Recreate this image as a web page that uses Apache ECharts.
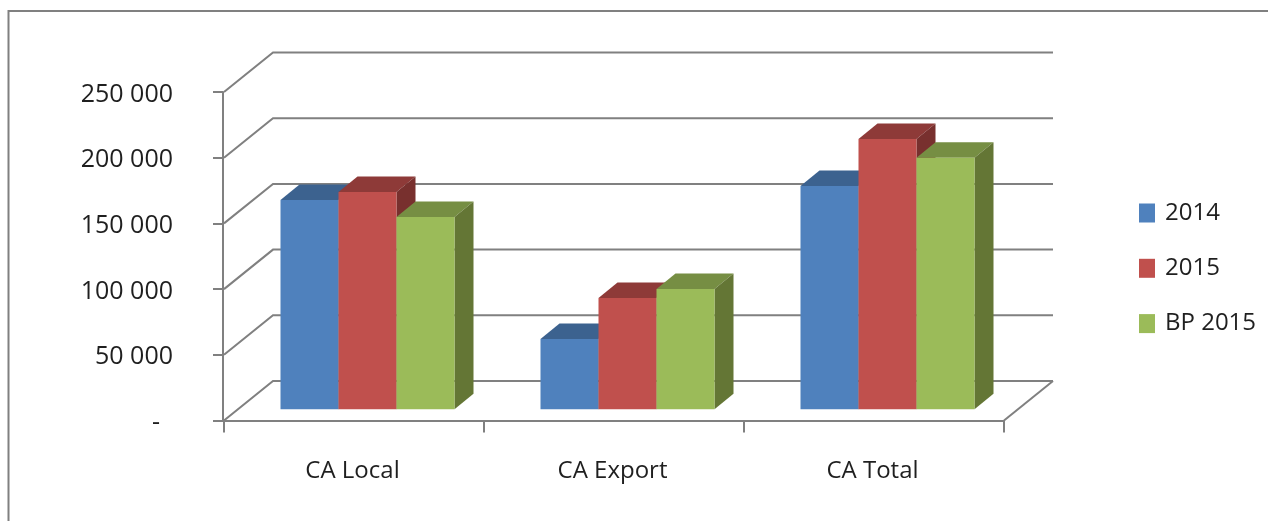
<!DOCTYPE html>
<html>
<head>
<meta charset="utf-8">
<style>
html,body{margin:0;padding:0;background:#fff}
#c{width:1268px;height:521px;filter:blur(0.6px)}
</style>
<script src="https://cdn.jsdelivr.net/npm/echarts@6/dist/echarts.min.js"></script>
</head>
<body>
<div id="c"></div>
<script>
const categories = ['CA Local', 'CA Export', 'CA Total'];
const seriesNames = ['2014', '2015', 'BP 2015'];
const values2014 = [159300, 53500, 170000];
const values2015 = [165300, 84700, 205700];
const valuesBP2015 = [146300, 91500, 191500];
const yTicks = [0, 50000, 100000, 150000, 200000, 250000];
const yTickLabels = ['-', '50 000', '100 000', '150 000', '200 000', '250 000'];

const seriesValues = [values2014, values2015, valuesBP2015];
const frontColors = ['#4F81BD', '#C0504D', '#9BBB59'];
const topColors = ['#3C628F', '#8E3A38', '#768E43'];
const sideColors = ['#335479', '#78302E', '#647635'];
const FONT = '"Open Sans"';
const wallDX = 49, wallDY = 39.5;
const barDX = 19, barDY = 15.5;
const baseDX = 13.5, baseDY = 11.2;
const lineColor = '#808080';
const LW = 2;

function renderWall(params, api) {
  const v = api.value(1);
  const p = api.coord([0, v]);
  const rect = params.coordSys;
  const x0 = rect.x, x1 = rect.x + rect.width, y = p[1];
  const children = [{
    type: 'polyline',
    shape: {points: [[x0, y], [x0 + wallDX, y - wallDY], [x1 + wallDX, y - wallDY]]},
    style: {stroke: lineColor, lineWidth: LW, fill: null}
  }];
  if (v === 0) {
    children.push({
      type: 'line',
      shape: {x1: x1, y1: y, x2: x1 + wallDX, y2: y - wallDY},
      style: {stroke: lineColor, lineWidth: LW}
    });
  }
  return {type: 'group', children: children};
}

function makeRenderBar(idx) {
  return function (params, api) {
    const cat = api.value(0), val = api.value(1);
    const catW = api.size([1, 0])[0];
    const bw = catW * 58 / 260;
    const centre = api.coord([cat, 0]);
    const top = api.coord([cat, val]);
    const xl = centre[0] + baseDX + (idx - 1.5) * bw;
    const xr = xl + bw;
    const yb = centre[1] - baseDY;
    const yt = top[1] - baseDY;
    return {
      type: 'group',
      children: [
        {type: 'polygon', shape: {points: [[xl, yt], [xl + barDX, yt - barDY], [xr + barDX, yt - barDY], [xr, yt]]}, style: {fill: topColors[idx]}},
        {type: 'polygon', shape: {points: [[xr, yt], [xr + barDX, yt - barDY], [xr + barDX, yb - barDY], [xr, yb]]}, style: {fill: sideColors[idx]}},
        {type: 'rect', shape: {x: xl, y: yt, width: bw, height: yb - yt}, style: {fill: frontColors[idx]}}
      ]
    };
  };
}

const chart = echarts.init(document.getElementById('c'), null, {renderer: 'canvas'});
chart.setOption({
  animation: false,
  backgroundColor: '#fff',
  graphic: [{
    type: 'rect', silent: true, z: 0,
    shape: {x: 8.5, y: 11, width: 1400, height: 700},
    style: {fill: null, stroke: lineColor, lineWidth: LW}
  }],
  grid: {left: 224, top: 92, width: 780, height: 328.5},
  legend: {
    orient: 'vertical', left: 1139, top: 201, padding: 0,
    itemWidth: 16, itemHeight: 19, itemGap: 31.3,
    icon: 'rect',
    data: seriesNames,
    textStyle: {fontFamily: FONT, fontSize: 24, color: '#1f1f1f', padding: [0, 0, 0, 5]}
  },
  xAxis: {
    type: 'category', data: categories,
    axisLine: {lineStyle: {color: lineColor, width: LW}},
    axisTick: {show: true, alignWithLabel: false, length: 12, lineStyle: {color: lineColor, width: LW}},
    axisLabel: {margin: 39, fontFamily: FONT, fontSize: 24, color: '#1f1f1f', padding: [0, 3, 0, 0]}
  },
  yAxis: {
    type: 'value', min: 0, max: 250000, interval: 50000, offset: 1,
    axisLine: {show: true, lineStyle: {color: lineColor, width: LW}},
    axisTick: {show: true, length: 10, lineStyle: {color: lineColor, width: LW}},
    splitLine: {show: false},
    axisLabel: {
      margin: 50, fontFamily: FONT, fontSize: 25, color: '#1f1f1f', padding: [5, 0, 0, 0],
      formatter: function (v) {
        const i = yTicks.indexOf(v);
        return i === 0 ? '{d|' + yTickLabels[0] + '}' : yTickLabels[i];
      },
      rich: {d: {padding: [0, 13, 0, 0], fontFamily: FONT, fontSize: 25, color: '#1f1f1f'}}
    }
  },
  series: [{
    type: 'custom', silent: true, z: 1, name: 'wall',
    coordinateSystem: 'cartesian2d',
    renderItem: renderWall,
    data: yTicks.map(function (t) { return [0, t]; })
  }].concat(seriesNames.map(function (name, idx) {
    return {
      type: 'custom', name: name, z: 2 + idx,
      coordinateSystem: 'cartesian2d',
      itemStyle: {color: frontColors[idx]},
      renderItem: makeRenderBar(idx),
      data: seriesValues[idx].map(function (v, i) { return [i, v]; })
    };
  }))
});
</script>
</body>
</html>
